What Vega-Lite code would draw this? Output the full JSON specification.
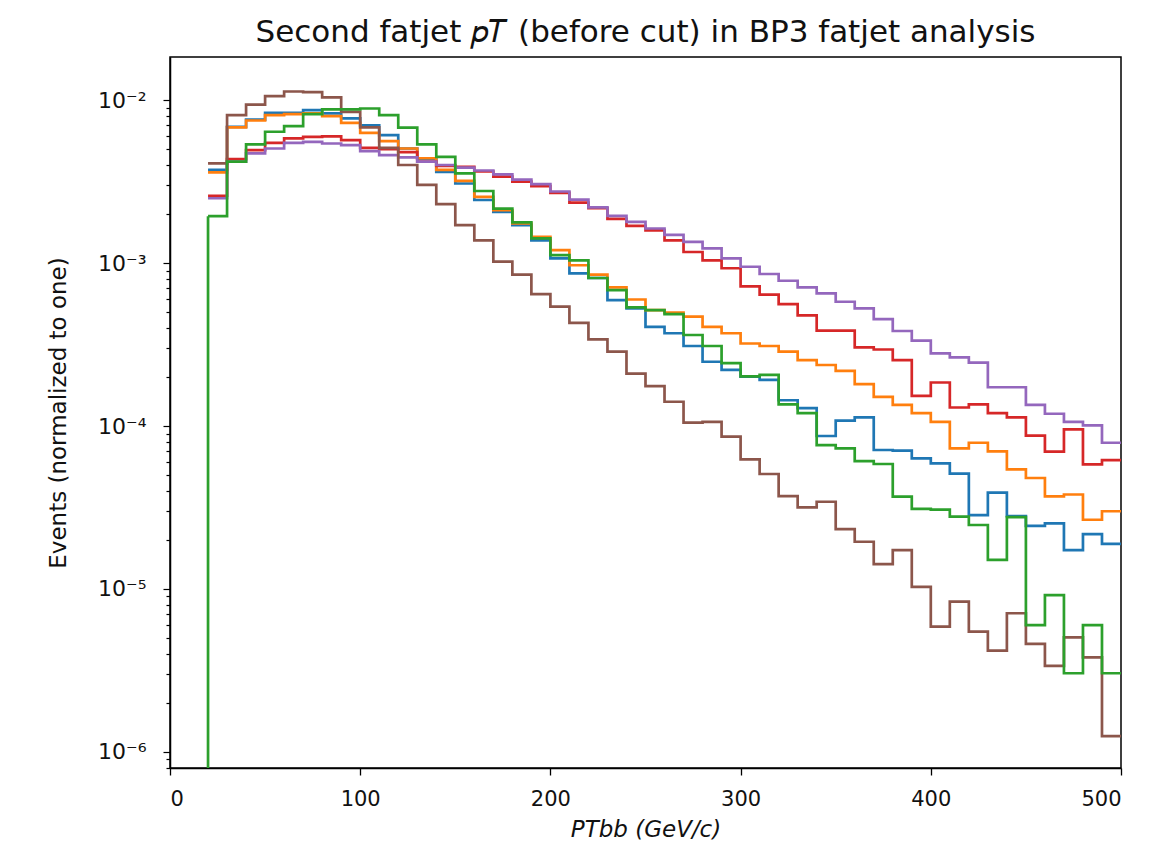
{
  "$schema": "https://vega.github.io/schema/vega-lite/v6.json",
  "width": 951,
  "height": 711,
  "autosize": {"type": "none"},
  "padding": {"left": 170, "top": 57, "right": 28, "bottom": 86},
  "background": "white",
  "config": {
    "font": "DejaVu Sans",
    "view": {"stroke": "black", "strokeWidth": 1.5},
    "title": {"font": "DejaVu Sans", "fontSize": 31, "fontWeight": "normal", "color": "#111"},
    "axis": {"labelFont": "DejaVu Sans", "titleFont": "DejaVu Sans", "labelColor": "#111", "titleColor": "#111", "domainColor": "black", "tickColor": "black", "grid": false, "titleFontWeight": "normal"}
  },
  "title": {"text": "Second fatjet 𝑝𝑇 (before cut) in BP3 fatjet analysis", "anchor": "middle", "offset": 8},
  "datasets": {
    "hist": [
      {"s":"blue","x":20,"y":3.73e-3},{"s":"blue","x":30,"y":6.86e-3},{"s":"blue","x":40,"y":7.6e-3},{"s":"blue","x":50,"y":8.36e-3},{"s":"blue","x":60,"y":8.36e-3},{"s":"blue","x":70,"y":8.68e-3},{"s":"blue","x":80,"y":8.29e-3},{"s":"blue","x":90,"y":7.72e-3},{"s":"blue","x":100,"y":7.0e-3},{"s":"blue","x":110,"y":6.1e-3},{"s":"blue","x":120,"y":5.05e-3},{"s":"blue","x":130,"y":4.38e-3},{"s":"blue","x":140,"y":3.63e-3},{"s":"blue","x":150,"y":3.08e-3},{"s":"blue","x":160,"y":2.44e-3},{"s":"blue","x":170,"y":2.06e-3},{"s":"blue","x":180,"y":1.71e-3},{"s":"blue","x":190,"y":1.38e-3},{"s":"blue","x":200,"y":1.07e-3},{"s":"blue","x":210,"y":8.65e-4},{"s":"blue","x":220,"y":8.1e-4},{"s":"blue","x":230,"y":5.93e-4},{"s":"blue","x":240,"y":5.27e-4},{"s":"blue","x":250,"y":4.06e-4},{"s":"blue","x":260,"y":3.71e-4},{"s":"blue","x":270,"y":3.1e-4},{"s":"blue","x":280,"y":2.48e-4},{"s":"blue","x":290,"y":2.21e-4},{"s":"blue","x":300,"y":2.01e-4},{"s":"blue","x":310,"y":1.92e-4},{"s":"blue","x":320,"y":1.44e-4},{"s":"blue","x":330,"y":1.29e-4},{"s":"blue","x":340,"y":8.69e-5},{"s":"blue","x":350,"y":1.08e-4},{"s":"blue","x":360,"y":1.13e-4},{"s":"blue","x":370,"y":7.13e-5},{"s":"blue","x":380,"y":7.06e-5},{"s":"blue","x":390,"y":6.34e-5},{"s":"blue","x":400,"y":5.9e-5},{"s":"blue","x":410,"y":5.1e-5},{"s":"blue","x":420,"y":2.84e-5},{"s":"blue","x":430,"y":3.9e-5},{"s":"blue","x":440,"y":2.8e-5},{"s":"blue","x":450,"y":2.44e-5},{"s":"blue","x":460,"y":2.53e-5},{"s":"blue","x":470,"y":1.73e-5},{"s":"blue","x":480,"y":2.17e-5},{"s":"blue","x":490,"y":1.89e-5},{"s":"blue","x":500,"y":1.89e-5},
      {"s":"orange","x":20,"y":3.6e-3},{"s":"orange","x":30,"y":6.8e-3},{"s":"orange","x":40,"y":7.5e-3},{"s":"orange","x":50,"y":8.09e-3},{"s":"orange","x":60,"y":8.2e-3},{"s":"orange","x":70,"y":8.29e-3},{"s":"orange","x":80,"y":7.97e-3},{"s":"orange","x":90,"y":7.26e-3},{"s":"orange","x":100,"y":6.3e-3},{"s":"orange","x":110,"y":5.6e-3},{"s":"orange","x":120,"y":5.05e-3},{"s":"orange","x":130,"y":4.4e-3},{"s":"orange","x":140,"y":3.73e-3},{"s":"orange","x":150,"y":3.2e-3},{"s":"orange","x":160,"y":2.55e-3},{"s":"orange","x":170,"y":2.11e-3},{"s":"orange","x":180,"y":1.75e-3},{"s":"orange","x":190,"y":1.45e-3},{"s":"orange","x":200,"y":1.2e-3},{"s":"orange","x":210,"y":9.7e-4},{"s":"orange","x":220,"y":8.5e-4},{"s":"orange","x":230,"y":7.1e-4},{"s":"orange","x":240,"y":5.98e-4},{"s":"orange","x":250,"y":5.15e-4},{"s":"orange","x":260,"y":4.96e-4},{"s":"orange","x":270,"y":4.69e-4},{"s":"orange","x":280,"y":4.06e-4},{"s":"orange","x":290,"y":3.71e-4},{"s":"orange","x":300,"y":3.21e-4},{"s":"orange","x":310,"y":3.1e-4},{"s":"orange","x":320,"y":2.86e-4},{"s":"orange","x":330,"y":2.54e-4},{"s":"orange","x":340,"y":2.37e-4},{"s":"orange","x":350,"y":2.18e-4},{"s":"orange","x":360,"y":1.81e-4},{"s":"orange","x":370,"y":1.51e-4},{"s":"orange","x":380,"y":1.35e-4},{"s":"orange","x":390,"y":1.2e-4},{"s":"orange","x":400,"y":1.06e-4},{"s":"orange","x":410,"y":7.3e-5},{"s":"orange","x":420,"y":7.9e-5},{"s":"orange","x":430,"y":7.0e-5},{"s":"orange","x":440,"y":5.42e-5},{"s":"orange","x":450,"y":4.8e-5},{"s":"orange","x":460,"y":3.7e-5},{"s":"orange","x":470,"y":3.8e-5},{"s":"orange","x":480,"y":2.66e-5},{"s":"orange","x":490,"y":3.0e-5},{"s":"orange","x":500,"y":3.0e-5},
      {"s":"red","x":20,"y":2.59e-3},{"s":"red","x":30,"y":4.35e-3},{"s":"red","x":40,"y":4.94e-3},{"s":"red","x":50,"y":5.47e-3},{"s":"red","x":60,"y":5.82e-3},{"s":"red","x":70,"y":5.96e-3},{"s":"red","x":80,"y":6.0e-3},{"s":"red","x":90,"y":5.69e-3},{"s":"red","x":100,"y":5.1e-3},{"s":"red","x":110,"y":5.0e-3},{"s":"red","x":120,"y":4.8e-3},{"s":"red","x":130,"y":4.2e-3},{"s":"red","x":140,"y":3.95e-3},{"s":"red","x":150,"y":3.9e-3},{"s":"red","x":160,"y":3.65e-3},{"s":"red","x":170,"y":3.39e-3},{"s":"red","x":180,"y":3.16e-3},{"s":"red","x":190,"y":2.97e-3},{"s":"red","x":200,"y":2.7e-3},{"s":"red","x":210,"y":2.35e-3},{"s":"red","x":220,"y":2.17e-3},{"s":"red","x":230,"y":1.87e-3},{"s":"red","x":240,"y":1.69e-3},{"s":"red","x":250,"y":1.59e-3},{"s":"red","x":260,"y":1.38e-3},{"s":"red","x":270,"y":1.17e-3},{"s":"red","x":280,"y":1.04e-3},{"s":"red","x":290,"y":9.3e-4},{"s":"red","x":300,"y":7.2e-4},{"s":"red","x":310,"y":6.4e-4},{"s":"red","x":320,"y":5.6e-4},{"s":"red","x":330,"y":4.78e-4},{"s":"red","x":340,"y":3.85e-4},{"s":"red","x":350,"y":3.85e-4},{"s":"red","x":360,"y":3.04e-4},{"s":"red","x":370,"y":2.95e-4},{"s":"red","x":380,"y":2.54e-4},{"s":"red","x":390,"y":1.53e-4},{"s":"red","x":400,"y":1.85e-4},{"s":"red","x":410,"y":1.3e-4},{"s":"red","x":420,"y":1.36e-4},{"s":"red","x":430,"y":1.2e-4},{"s":"red","x":440,"y":1.13e-4},{"s":"red","x":450,"y":8.73e-5},{"s":"red","x":460,"y":6.96e-5},{"s":"red","x":470,"y":9.55e-5},{"s":"red","x":480,"y":5.82e-5},{"s":"red","x":490,"y":6.18e-5},{"s":"red","x":500,"y":6.18e-5},
      {"s":"purple","x":20,"y":2.5e-3},{"s":"purple","x":30,"y":4.2e-3},{"s":"purple","x":40,"y":4.71e-3},{"s":"purple","x":50,"y":5.05e-3},{"s":"purple","x":60,"y":5.47e-3},{"s":"purple","x":70,"y":5.55e-3},{"s":"purple","x":80,"y":5.42e-3},{"s":"purple","x":90,"y":5.3e-3},{"s":"purple","x":100,"y":4.87e-3},{"s":"purple","x":110,"y":4.6e-3},{"s":"purple","x":120,"y":4.45e-3},{"s":"purple","x":130,"y":4.19e-3},{"s":"purple","x":140,"y":4.0e-3},{"s":"purple","x":150,"y":3.85e-3},{"s":"purple","x":160,"y":3.7e-3},{"s":"purple","x":170,"y":3.5e-3},{"s":"purple","x":180,"y":3.25e-3},{"s":"purple","x":190,"y":3.05e-3},{"s":"purple","x":200,"y":2.75e-3},{"s":"purple","x":210,"y":2.45e-3},{"s":"purple","x":220,"y":2.2e-3},{"s":"purple","x":230,"y":1.95e-3},{"s":"purple","x":240,"y":1.79e-3},{"s":"purple","x":250,"y":1.63e-3},{"s":"purple","x":260,"y":1.49e-3},{"s":"purple","x":270,"y":1.35e-3},{"s":"purple","x":280,"y":1.23e-3},{"s":"purple","x":290,"y":1.07e-3},{"s":"purple","x":300,"y":9.5e-4},{"s":"purple","x":310,"y":8.57e-4},{"s":"purple","x":320,"y":7.79e-4},{"s":"purple","x":330,"y":7.1e-4},{"s":"purple","x":340,"y":6.52e-4},{"s":"purple","x":350,"y":5.79e-4},{"s":"purple","x":360,"y":5.27e-4},{"s":"purple","x":370,"y":4.53e-4},{"s":"purple","x":380,"y":3.83e-4},{"s":"purple","x":390,"y":3.34e-4},{"s":"purple","x":400,"y":2.79e-4},{"s":"purple","x":410,"y":2.64e-4},{"s":"purple","x":420,"y":2.45e-4},{"s":"purple","x":430,"y":1.73e-4},{"s":"purple","x":440,"y":1.73e-4},{"s":"purple","x":450,"y":1.35e-4},{"s":"purple","x":460,"y":1.19e-4},{"s":"purple","x":470,"y":1.06e-4},{"s":"purple","x":480,"y":1.01e-4},{"s":"purple","x":490,"y":7.9e-5},{"s":"purple","x":500,"y":7.9e-5},
      {"s":"brown","x":20,"y":4.09e-3},{"s":"brown","x":30,"y":8.09e-3},{"s":"brown","x":40,"y":9.4e-3},{"s":"brown","x":50,"y":1.06e-2},{"s":"brown","x":60,"y":1.13e-2},{"s":"brown","x":70,"y":1.12e-2},{"s":"brown","x":80,"y":1.04e-2},{"s":"brown","x":90,"y":8.48e-3},{"s":"brown","x":100,"y":6.8e-3},{"s":"brown","x":110,"y":5.1e-3},{"s":"brown","x":120,"y":4.0e-3},{"s":"brown","x":130,"y":3.02e-3},{"s":"brown","x":140,"y":2.3e-3},{"s":"brown","x":150,"y":1.71e-3},{"s":"brown","x":160,"y":1.38e-3},{"s":"brown","x":170,"y":1.02e-3},{"s":"brown","x":180,"y":8.5e-4},{"s":"brown","x":190,"y":6.45e-4},{"s":"brown","x":200,"y":5.4e-4},{"s":"brown","x":210,"y":4.3e-4},{"s":"brown","x":220,"y":3.4e-4},{"s":"brown","x":230,"y":2.86e-4},{"s":"brown","x":240,"y":2.1e-4},{"s":"brown","x":250,"y":1.76e-4},{"s":"brown","x":260,"y":1.41e-4},{"s":"brown","x":270,"y":1.05e-4},{"s":"brown","x":280,"y":1.06e-4},{"s":"brown","x":290,"y":8.6e-5},{"s":"brown","x":300,"y":6.24e-5},{"s":"brown","x":310,"y":5.08e-5},{"s":"brown","x":320,"y":3.72e-5},{"s":"brown","x":330,"y":3.17e-5},{"s":"brown","x":340,"y":3.43e-5},{"s":"brown","x":350,"y":2.33e-5},{"s":"brown","x":360,"y":1.95e-5},{"s":"brown","x":370,"y":1.42e-5},{"s":"brown","x":380,"y":1.73e-5},{"s":"brown","x":390,"y":1.03e-5},{"s":"brown","x":400,"y":5.87e-6},{"s":"brown","x":410,"y":8.36e-6},{"s":"brown","x":420,"y":5.47e-6},{"s":"brown","x":430,"y":4.18e-6},{"s":"brown","x":440,"y":7.1e-6},{"s":"brown","x":450,"y":4.6e-6},{"s":"brown","x":460,"y":3.37e-6},{"s":"brown","x":470,"y":5.05e-6},{"s":"brown","x":480,"y":3.81e-6},{"s":"brown","x":490,"y":1.25e-6},{"s":"brown","x":500,"y":1.25e-6},
      {"s":"green","x":20,"y":1.94e-3},{"s":"green","x":30,"y":4.19e-3},{"s":"green","x":40,"y":5.35e-3},{"s":"green","x":50,"y":6.4e-3},{"s":"green","x":60,"y":6.92e-3},{"s":"green","x":70,"y":8.2e-3},{"s":"green","x":80,"y":8.77e-3},{"s":"green","x":90,"y":8.77e-3},{"s":"green","x":100,"y":8.89e-3},{"s":"green","x":110,"y":8.09e-3},{"s":"green","x":120,"y":6.79e-3},{"s":"green","x":130,"y":5.35e-3},{"s":"green","x":140,"y":4.49e-3},{"s":"green","x":150,"y":3.55e-3},{"s":"green","x":160,"y":2.77e-3},{"s":"green","x":170,"y":2.16e-3},{"s":"green","x":180,"y":1.78e-3},{"s":"green","x":190,"y":1.42e-3},{"s":"green","x":200,"y":1.12e-3},{"s":"green","x":210,"y":1.04e-3},{"s":"green","x":220,"y":8.1e-4},{"s":"green","x":230,"y":6.83e-4},{"s":"green","x":240,"y":5.35e-4},{"s":"green","x":250,"y":5.15e-4},{"s":"green","x":260,"y":4.86e-4},{"s":"green","x":270,"y":3.62e-4},{"s":"green","x":280,"y":3.1e-4},{"s":"green","x":290,"y":2.43e-4},{"s":"green","x":300,"y":2.02e-4},{"s":"green","x":310,"y":2.06e-4},{"s":"green","x":320,"y":1.36e-4},{"s":"green","x":330,"y":1.2e-4},{"s":"green","x":340,"y":7.64e-5},{"s":"green","x":350,"y":7.3e-5},{"s":"green","x":360,"y":6.1e-5},{"s":"green","x":370,"y":5.85e-5},{"s":"green","x":380,"y":3.69e-5},{"s":"green","x":390,"y":3.1e-5},{"s":"green","x":400,"y":3.07e-5},{"s":"green","x":410,"y":2.78e-5},{"s":"green","x":420,"y":2.47e-5},{"s":"green","x":430,"y":1.51e-5},{"s":"green","x":440,"y":2.76e-5},{"s":"green","x":450,"y":6.01e-6},{"s":"green","x":460,"y":9.18e-6},{"s":"green","x":470,"y":3.04e-6},{"s":"green","x":480,"y":6.01e-6},{"s":"green","x":490,"y":3.04e-6},{"s":"green","x":500,"y":3.04e-6}
    ],
    "edge": [
      {"s":"green","x":20,"y":1e-7,"y2":1.94e-3}
    ]
  },
  "layer": [
    {
      "data": {"name": "edge"},
      "mark": {"type": "rule", "strokeWidth": 2.7, "clip": true},
      "encoding": {
        "x": {"field": "x", "type": "quantitative"},
        "y": {"field": "y", "type": "quantitative"},
        "y2": {"field": "y2"},
        "color": {"field": "s", "type": "nominal", "legend": null}
      }
    },
    {
      "data": {"name": "hist"},
      "mark": {"type": "line", "interpolate": "step-after", "strokeWidth": 2.7, "clip": true},
      "encoding": {
        "x": {
          "field": "x", "type": "quantitative",
          "scale": {"domain": [0, 500], "nice": false, "zero": false},
          "axis": {"values": [0, 100, 200, 300, 400, 500], "title": "PTbb (GeV/c)", "titleFontStyle": "italic", "titleFontSize": 23, "titlePadding": 9, "labelFontSize": 21, "tickSize": 7, "tickWidth": 1.3, "labelPadding": 13, "domainWidth": 1.5}
        },
        "y": {
          "field": "y", "type": "quantitative",
          "scale": {"type": "log", "domain": [7.97e-7, 1.84e-2], "nice": false},
          "axis": {
            "values": [8e-7, 9e-7, 1e-6, 2e-6, 3e-6, 4e-6, 5e-6, 6e-6, 7e-6, 8e-6, 9e-6, 1e-5, 2e-5, 3e-5, 4e-5, 5e-5, 6e-5, 7e-5, 8e-5, 9e-5, 1e-4, 2e-4, 3e-4, 4e-4, 5e-4, 6e-4, 7e-4, 8e-4, 9e-4, 1e-3, 2e-3, 3e-3, 4e-3, 5e-3, 6e-3, 7e-3, 8e-3, 9e-3, 1e-2],
            "labelExpr": "abs(log(datum.value)/LN10 - round(log(datum.value)/LN10)) < 0.001 ? ['10⁻⁶','10⁻⁵','10⁻⁴','10⁻³','10⁻²'][round(log(datum.value)/LN10)+6] : ''",
            "labelOverlap": false,
            "tickSize": {"condition": {"test": "abs(log(datum.value)/LN10 - round(log(datum.value)/LN10)) < 0.001", "value": 7}, "value": 4},
            "tickWidth": 1.2,
            "labelFontSize": 22,
            "labelPadding": 17,
            "title": "Events (normalized to one)",
            "titleFontSize": 23,
            "titlePadding": 27,
            "domainWidth": 1.5
          }
        },
        "color": {
          "field": "s", "type": "nominal", "legend": null,
          "scale": {"domain": ["blue", "orange", "green", "red", "purple", "brown"], "range": ["#1f77b4", "#ff7f0e", "#2ca02c", "#d62728", "#9467bd", "#8c564b"]}
        }
      }
    }
  ]
}
